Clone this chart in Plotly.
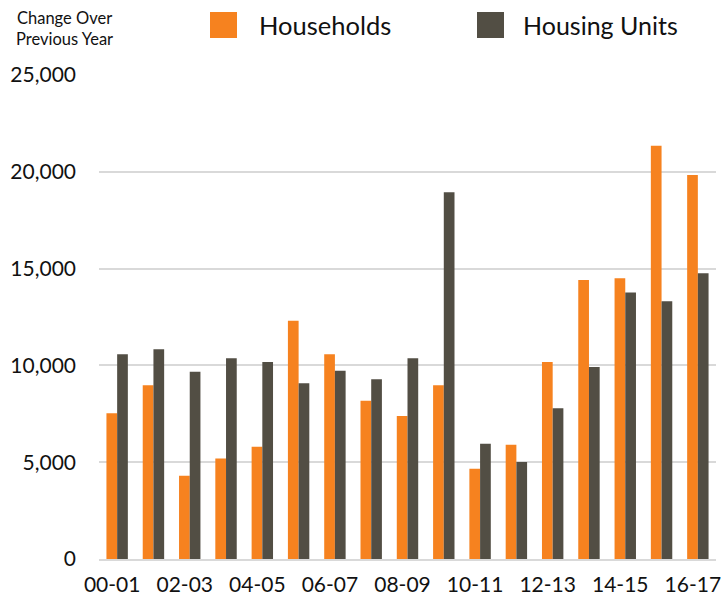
import plotly.graph_objects as go

categories = ["00-01", "01-02", "02-03", "03-04", "04-05", "05-06", "06-07", "07-08", "08-09",
              "09-10", "10-11", "11-12", "12-13", "13-14", "14-15", "15-16", "16-17"]
households = [7530, 8980, 4300, 5190, 5800, 12310, 10580, 8170, 7390,
              8980, 4660, 5900, 10170, 14410, 14500, 21340, 19830]
housing_units = [10580, 10840, 9670, 10370, 10170, 9080, 9720, 9290, 10370,
                 18950, 5950, 5010, 7790, 9920, 13760, 13310, 14760]
x_ticklabels = categories[::2]
y_ticks = [0, 5000, 10000, 15000, 20000, 25000]
y_ticklabels = ["0", "5,000", "10,000", "15,000", "20,000", "25,000"]

ORANGE = "#F6821F"
DARK = "#524E44"
FONT = "Lato, Carlito, sans-serif"

W, H = 721, 600
L, R, T, B = 99, 5, 75, 41
PW, PH = W - L - R, H - T - B


def px(x):
    return (x - L) / PW


def py(y):
    return (H - B - y) / PH


fig = go.Figure()
fig.add_trace(go.Bar(x=categories, y=households, name="Households", marker_color=ORANGE,
                     marker_line_width=0))
fig.add_trace(go.Bar(x=categories, y=housing_units, name="Housing Units", marker_color=DARK,
                     marker_line_width=0))

fig.update_layout(
    width=W, height=H,
    margin=dict(l=L, r=R, t=T, b=B),
    paper_bgcolor="white", plot_bgcolor="white",
    barmode="group", bargap=0.41, bargroupgap=0,
    showlegend=False,
    font=dict(family=FONT, color="#111111", size=21),
)
fig.update_xaxes(
    type="category", tickvals=x_ticklabels, ticktext=x_ticklabels, automargin=False,
    showgrid=False, showline=True, linecolor="#d9d9d9", linewidth=1.5,
    tickfont=dict(size=21, family=FONT), ticklabelstandoff=6, ticklabelshift=-5,
)
fig.update_yaxes(
    range=[0, 25000], tickvals=y_ticks, ticktext=y_ticklabels, automargin=False,
    showgrid=True, gridcolor="#d9d9d9", gridwidth=1.5, zeroline=False,
    tickfont=dict(size=21, family=FONT), ticklabelstandoff=22,
)

# Axis title in the top-left corner
fig.add_annotation(text="Change Over<br>Previous Year", xref="paper", yref="paper",
                   x=px(64), y=py(28), xanchor="center", yanchor="middle", showarrow=False,
                   align="center", font=dict(size=16.5, family=FONT, color="#111111"))

# Legend drawn as squares + labels
legend_items = [("Households", ORANGE, 210, 237, 257, 25.5),
                ("Housing Units", DARK, 477, 504, 521, 25)]
for name, color, x0, x1, tx, fs in legend_items:
    fig.add_shape(type="rect", xref="paper", yref="paper",
                  x0=px(x0), x1=px(x1), y0=py(38), y1=py(12),
                  fillcolor=color, line_width=0)
    fig.add_annotation(text=name, xref="paper", yref="paper",
                       x=px(tx), y=py(25), xanchor="left", yanchor="middle",
                       showarrow=False, font=dict(size=fs, family=FONT, color="#111111"))

fig.write_html("out.html", config={"displayModeBar": False},
               post_script="document.body.style.margin='0px';")
